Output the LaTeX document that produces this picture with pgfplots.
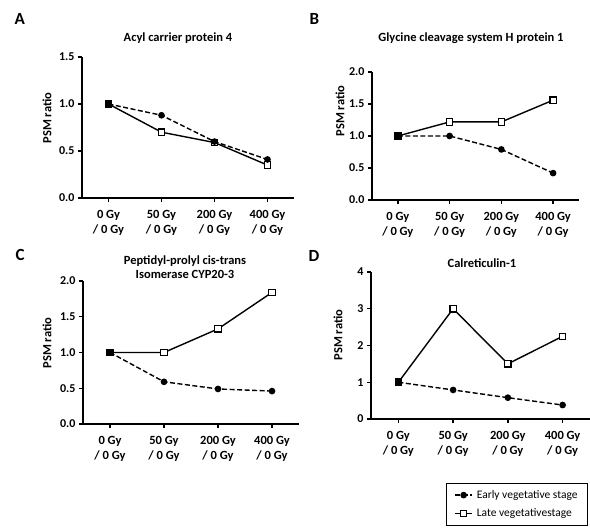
\documentclass[border=0pt]{standalone}
\usepackage{fontspec}
\setmainfont{Carlito}[BoldFont={Carlito Bold}]
\usepackage{pgfplots}
\pgfplotsset{compat=1.18}

\pgfplotsset{
  gp/.style={
    anchor=south west,
    scale only axis,
    xmin=-0.5, xmax=3.5,
    ymin=0,
    axis x line*=bottom,
    axis y line*=left,
    axis line style={line width=1.6pt},
    major tick style={line width=1.4pt, black},
    tick align=outside,
    major tick length=4pt,
    xtick={0,1,2,3},
    xticklabels={{0 Gy\\/ 0 Gy},{50 Gy\\/ 0 Gy},{200 Gy\\/ 0 Gy},{400 Gy\\/ 0 Gy}},
    x tick label style={align=center, font=\fontsize{12.5}{15}\selectfont\bfseries, yshift=-5pt},
    y tick label style={font=\fontsize{12}{13}\selectfont\bfseries},
    /pgf/number format/assume math mode=true,
    ylabel={PSM ratio},
    ylabel style={font=\fontsize{12.5}{13}\selectfont\bfseries},
    clip=false,
  },
  early/.style={black, line width=1.4pt, dash pattern=on 5pt off 2.5pt,
    mark=*, mark size=2.6pt, mark options={solid}},
  late/.style={black, line width=1.4pt, mark=square*, mark size=3.2pt,
    mark options={solid, fill=white, line width=1.2pt}},
  start/.style={forget plot, only marks, black, mark=square*, mark size=3.2pt},
  gplegend/.style={
    legend image code/.code={
      \draw[mark repeat=2, mark phase=2, ##1]
        plot coordinates {(0pt,0pt) (8.5pt,0pt) (17pt,0pt)};
    }
  },
}

\begin{document}
\begin{tikzpicture}
\useasboundingbox (0pt,0pt) rectangle (590pt,529pt);

% panel letters and titles
\node[anchor=base west, font=\fontsize{17}{17}\selectfont\bfseries] at (11pt,504pt) {A};
\node[anchor=base west, font=\fontsize{17}{17}\selectfont\bfseries] at (306pt,504pt) {B};
\node[anchor=base west, font=\fontsize{17}{17}\selectfont\bfseries] at (12pt,268pt) {C};
\node[anchor=base west, font=\fontsize{17}{17}\selectfont\bfseries] at (305pt,267pt) {D};
\node[anchor=base, font=\fontsize{12.5}{13}\selectfont\bfseries] at (178pt,487pt) {Acyl carrier protein 4};
\node[anchor=base, font=\fontsize{12.5}{13}\selectfont\bfseries] at (471pt,487pt) {Glycine cleavage system H protein 1};
\node[anchor=base, align=center, font=\fontsize{12.5}{14}\selectfont\bfseries] at (185pt,250pt) {Peptidyl-prolyl cis-trans\\Isomerase CYP20-3};
\node[anchor=base, font=\fontsize{12.5}{13}\selectfont\bfseries] at (482pt,261pt) {Calreticulin-1};

% A
\begin{axis}[gp, at={(82pt,331pt)}, width=212pt, height=141pt,
  ymax=1.5, ytick={0,0.5,1,1.5},
  yticklabels={0.0,0.5,1.0,1.5},
  ylabel style={at={(axis description cs:-0.165,0.567)}, anchor=center}]
\addplot[late] coordinates {(0,1.00) (1,0.70) (2,0.59) (3,0.35)};
\addplot[early] coordinates {(0,1.00) (1,0.88) (2,0.60) (3,0.41)};
\addplot[start] coordinates {(0,1.00)};
\end{axis}

% B
\begin{axis}[gp, at={(372pt,329pt)}, width=207pt, height=128pt,
  ymax=2.0, ytick={0,0.5,1,1.5,2},
  yticklabels={0.0,0.5,1.0,1.5,2.0},
  ylabel style={at={(axis description cs:-0.155,0.695)}, anchor=center}]
\addplot[late] coordinates {(0,1.00) (1,1.22) (2,1.22) (3,1.56)};
\addplot[early] coordinates {(0,1.00) (1,1.00) (2,0.79) (3,0.42)};
\addplot[start] coordinates {(0,1.00)};
\end{axis}

% C
\begin{axis}[gp, at={(83pt,105pt)}, width=216pt, height=143pt,
  ymax=2.0, ytick={0,0.5,1,1.5,2},
  yticklabels={0.0,0.5,1.0,1.5,2.0},
  ylabel style={at={(axis description cs:-0.167,0.566)}, anchor=center}]
\addplot[late] coordinates {(0,1.00) (1,1.00) (2,1.33) (3,1.84)};
\addplot[early] coordinates {(0,1.00) (1,0.59) (2,0.49) (3,0.46)};
\addplot[start] coordinates {(0,1.00)};
\end{axis}

% D
\begin{axis}[gp, gplegend, at={(371pt,110pt)}, width=219pt, height=147pt,
  ymax=4, ytick={0,1,2,3,4},
  ylabel style={at={(axis description cs:-0.151,0.571)}, anchor=center},
  legend style={at={(axis description cs:0.991,-0.435)}, anchor=north east,
    draw=black, line width=0.9pt, font=\fontsize{11.5}{14}\selectfont,
    row sep=5pt, inner xsep=8pt, inner ysep=5pt,
    /tikz/every odd column/.append style={column sep=2pt}},
  legend cell align=left,
  reverse legend]
\addplot[late] coordinates {(0,1.00) (1,3.00) (2,1.50) (3,2.25)};
\addplot[early] coordinates {(0,1.00) (1,0.79) (2,0.58) (3,0.38)};
\addplot[start] coordinates {(0,1.00)};
\legend{Late vegetativestage, Early vegetative stage}
\end{axis}
\end{tikzpicture}
\end{document}
